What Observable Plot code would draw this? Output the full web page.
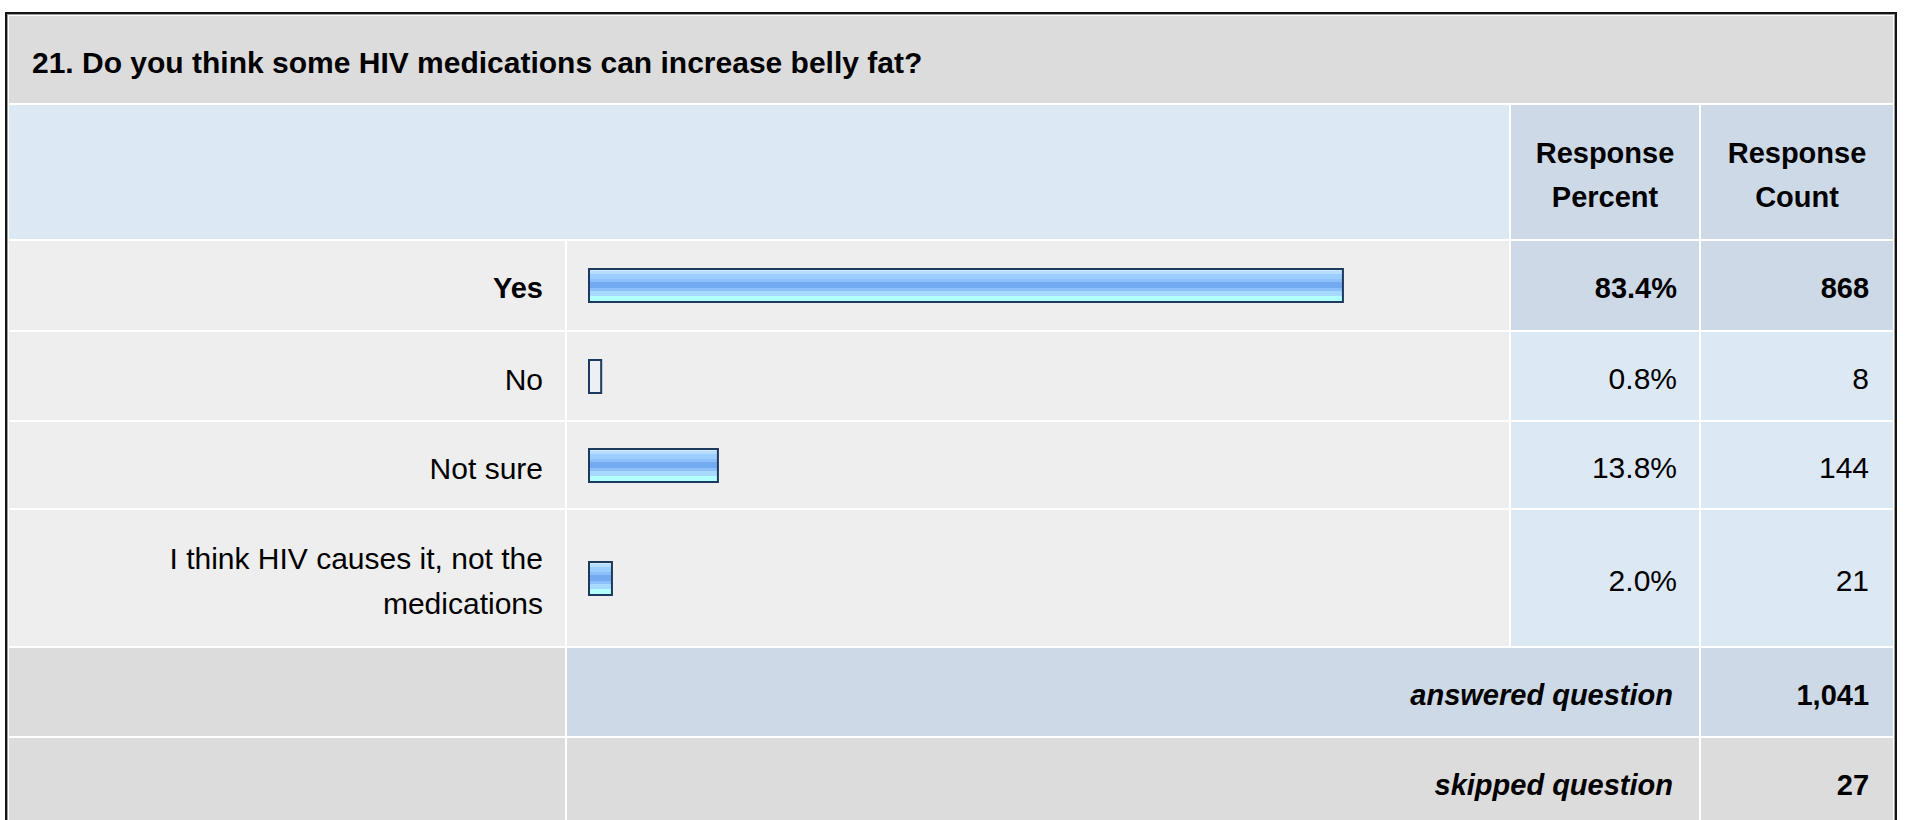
<!DOCTYPE html>
<html>
<head>
<meta charset="utf-8">
<script src="https://cdn.jsdelivr.net/npm/d3@7"></script>
<script src="https://cdn.jsdelivr.net/npm/@observablehq/plot@0.6"></script>
<style>
  html, body { margin: 0; padding: 0; background: #fff; overflow: hidden; width: 1907px; height: 820px; }
  body { font-family: "Liberation Sans", Arial, Helvetica, sans-serif; font-size: 30px; color: #000; position: relative; }
  table { position: absolute; left: 5px; top: 12px; box-sizing: border-box; width: 1892px; table-layout: fixed;
          border: 2px solid #141414; border-spacing: 2px; background: #fff; box-shadow: inset 0 0 0 1px #9a9a9a; }
  col.c-label { width: 556px; } col.c-bar { width: 942px; } col.c-pct { width: 188px; } col.c-cnt { width: 192px; }
  td { padding: 0; vertical-align: middle; overflow: hidden; }
  .t { position: relative; top: 3px; }
  tr:nth-child(1) td { height: 87px; }
  tr:nth-child(2) td { height: 134px; }
  tr:nth-child(3) td { height: 89px; }
  tr:nth-child(4) td { height: 88px; }
  tr:nth-child(5) td { height: 86px; }
  tr:nth-child(6) td { height: 136px; }
  tr:nth-child(7) td { height: 88px; }
  tr:nth-child(8) td { height: 88px; }
  td.title { background: #dcdcdc; font-weight: bold; font-size: 30px; padding-left: 23px; text-align: left; white-space: nowrap; }
  td.head-blank { background: #dde8f5; }
  td.head { background: #cdd9e6; font-weight: bold; font-size: 29px; text-align: center; line-height: 44px; }
  td.lab { background: #eeeeee; text-align: right; padding: 0 22px 0 60px; line-height: 45px; }
  td.bar { background: #eeeeee; }
  td.bar svg { display: block; }
  td.pct { background: #dde8f5; text-align: right; padding-right: 22px; }
  td.cnt { background: #dde8f5; text-align: right; padding-right: 24px; }
  tr.top td.lab, tr.top td.pct, tr.top td.cnt { font-weight: bold; font-size: 29px; }
  tr.top td.pct, tr.top td.cnt { background: #cdd9e6; }
  td.foot-blank { background: #dcdcdc; }
  td.foot-lab { text-align: right; padding-right: 26px; font-weight: bold; font-style: italic; font-size: 29px; }
  td.foot-cnt { text-align: right; padding-right: 24px; font-weight: bold; font-size: 29px; }
  tr.answered td.foot-lab, tr.answered td.foot-cnt { background: #cdd9e6; }
  tr.skipped td.foot-lab, tr.skipped td.foot-cnt { background: #dcdcdc; }
</style>
</head>
<body>
<script>
// ---- data ----
const question = "21. Do you think some HIV medications can increase belly fat?";
const columnHeaders = ["Response Percent", "Response Count"];
const answers = ["Yes", "No", "Not sure", "I think HIV causes it, not the medications"];
const percents = [83.4, 0.8, 13.8, 2.0];
const counts = [868, 8, 144, 21];
const footerLabels = ["answered question", "skipped question"];
const footerCounts = [1041, 27];

// ---- helpers ----
const fmtPct = d => d3.format(".1f")(d) + "%";
const fmtCount = d3.format(",");
const maxCount = d3.max(counts);

function makeBar(pct, i) {
  const id = "barGrad" + i;
  const svg = Plot.plot({
    width: 942,
    height: 35,
    marginLeft: 27,
    marginRight: 17,
    marginTop: 1,
    marginBottom: 1,
    style: { background: "transparent" },
    x: { domain: [0, 100], axis: null },
    marks: [
      Plot.rectX([pct], {
        x: d => d,
        fill: pct < 1 ? "#eceff3" : `url(#${id})`,
        stroke: "#1d3a5e",
        strokeWidth: 2,
        insetLeft: -5
      })
    ]
  });
  const defs = d3.select(svg).insert("defs", ":first-child");
  const g = defs.append("linearGradient").attr("id", id)
    .attr("x1", 0).attr("y1", 0).attr("x2", 0).attr("y2", 1);
  const stops = [
    [0.00, "#d2e9ff"], [0.07, "#d2e9ff"],
    [0.07, "#b6dcff"], [0.16, "#b6dcff"],
    [0.16, "#9ccdff"], [0.29, "#9ccdff"],
    [0.29, "#8dc0fb"], [0.40, "#8dc0fb"],
    [0.40, "#74aaf0"], [0.58, "#74aaf0"],
    [0.58, "#8dc0fa"], [0.68, "#8dc0fa"],
    [0.68, "#a8daff"], [0.82, "#a8daff"],
    [0.82, "#b2ffff"], [1.00, "#b2ffff"]
  ];
  stops.forEach(([o, c]) => g.append("stop").attr("offset", o).attr("stop-color", c));
  return svg;
}

// ---- build ----
const table = d3.select("body").append("table");
const colg = table.append("colgroup");
["c-label", "c-bar", "c-pct", "c-cnt"].forEach(c => colg.append("col").attr("class", c));
const tb = table.append("tbody");

tb.append("tr").append("td").attr("colspan", 4).attr("class", "title")
  .append("span").attr("class", "t").text(question);

const hr = tb.append("tr");
hr.append("td").attr("colspan", 2).attr("class", "head-blank");
columnHeaders.forEach(h => hr.append("td").attr("class", "head").append("span").attr("class", "t").text(h));

answers.forEach((a, i) => {
  const tr = tb.append("tr").attr("class", counts[i] === maxCount ? "top" : null);
  tr.append("td").attr("class", "lab").append("span").attr("class", "t").text(a);
  tr.append("td").attr("class", "bar").node().appendChild(makeBar(percents[i], i));
  tr.append("td").attr("class", "pct").append("span").attr("class", "t").text(fmtPct(percents[i]));
  tr.append("td").attr("class", "cnt").append("span").attr("class", "t").text(fmtCount(counts[i]));
});

footerLabels.forEach((f, i) => {
  const tr = tb.append("tr").attr("class", i === 0 ? "answered" : "skipped");
  tr.append("td").attr("class", "foot-blank");
  tr.append("td").attr("colspan", 2).attr("class", "foot-lab").append("span").attr("class", "t").text(f);
  tr.append("td").attr("class", "foot-cnt").append("span").attr("class", "t").text(fmtCount(footerCounts[i]));
});
</script>
</body>
</html>
